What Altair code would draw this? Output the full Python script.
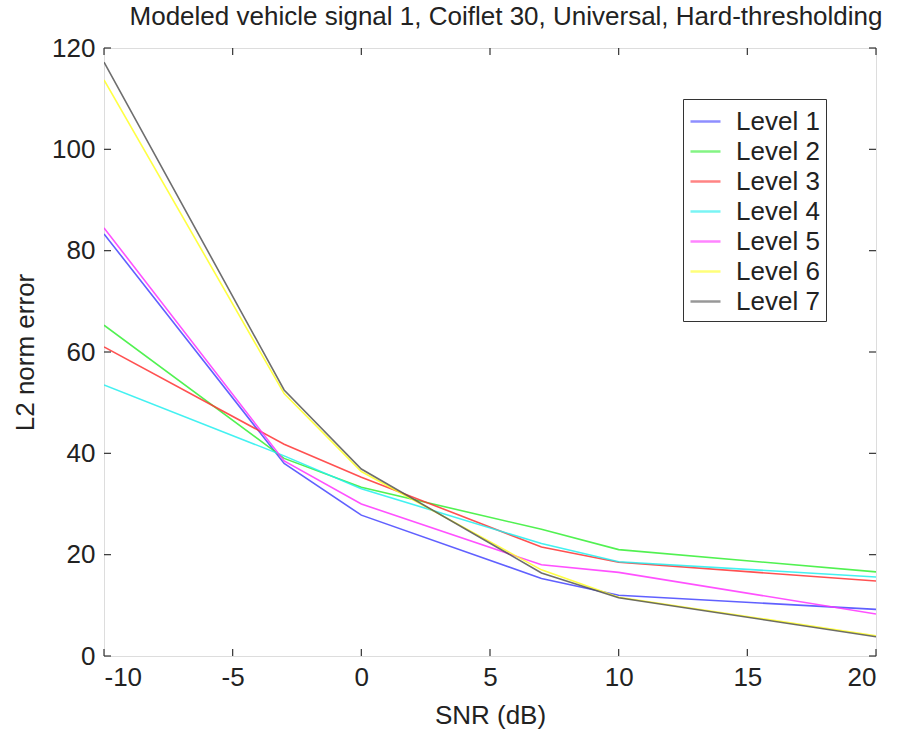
import altair as alt
import pandas as pd

snr = [-10, -3, 0, 7, 10, 20]
levels = ["Level 1", "Level 2", "Level 3", "Level 4", "Level 5", "Level 6", "Level 7"]
level1 = [83.3, 38.0, 27.8, 15.3, 12.0, 9.2]
level2 = [65.3, 39.0, 33.3, 25.0, 21.0, 16.6]
level3 = [61.0, 41.8, 35.3, 21.5, 18.5, 14.8]
level4 = [53.5, 39.5, 33.0, 22.2, 18.6, 15.6]
level5 = [84.5, 38.5, 30.0, 18.0, 16.5, 8.3]
level6 = [113.7, 51.8, 36.4, 17.0, 11.6, 4.0]
level7 = [117.2, 52.5, 36.9, 16.4, 11.5, 3.8]
colors = ["#4444ff", "#33ee33", "#ff3333", "#22eeee", "#ff33ff", "#ffff22", "#555555"]
x_ticks = [-10, -5, 0, 5, 10, 15, 20]
y_ticks = [0, 20, 40, 60, 80, 100, 120]

series = [level1, level2, level3, level4, level5, level6, level7]
rows = []
for name, vals in zip(levels, series):
    for s, v in zip(snr, vals):
        rows.append({"snr": s, "err": v, "level": name})
df = pd.DataFrame(rows)

W, H = 772, 608
FONT = "Liberation Sans"

xs = alt.Scale(domain=[-10, 20], nice=False, zero=False)
ys = alt.Scale(domain=[0, 120], nice=False, zero=False)

lines = alt.Chart(df).mark_line(strokeWidth=1.6, opacity=0.85, clip=True).encode(
    x=alt.X("snr:Q", scale=xs, title="SNR (dB)",
            axis=alt.Axis(values=x_ticks, ticks=False, tickSize=0, domain=False, grid=False,
                          labelExpr="datum.value < 0 ? '-' + abs(datum.value) : '' + datum.value",
                          labelFontSize=26, labelFont=FONT, labelColor="#222", labelPadding=8,
                          titleFontSize=26, titleFont=FONT, titleFontWeight="normal",
                          titleColor="#222", titlePadding=12)),
    y=alt.Y("err:Q", scale=ys, title="L2 norm error",
            axis=alt.Axis(values=y_ticks, ticks=False, tickSize=0, domain=False, grid=False,
                          labelFontSize=26, labelFont=FONT, labelColor="#222", labelPadding=9,
                          titleFontSize=26, titleFont=FONT, titleFontWeight="normal",
                          titleColor="#222", titlePadding=13)),
    color=alt.Color("level:N", scale=alt.Scale(domain=levels, range=colors),
                    legend=alt.Legend(title=None, orient="none", legendX=579, legendY=51,
                                      symbolType="stroke", symbolSize=900, symbolStrokeWidth=2.5,
                                      labelFontSize=26, labelFont=FONT, labelColor="#222",
                                      strokeColor="#333", fillColor="white", padding=6,
                                      rowPadding=0, symbolOpacity=0.6, labelOffset=14)),
    detail="level:N",
)

xt = pd.DataFrame({"t": x_ticks})
yt = pd.DataFrame({"t": y_ticks})
tick_style = dict(color="#333", strokeWidth=1.2)
xb = alt.Chart(xt).mark_rule(**tick_style).encode(x=alt.X("t:Q", scale=xs), y=alt.value(H), y2=alt.value(H - 7))
xtop = alt.Chart(xt).mark_rule(**tick_style).encode(x=alt.X("t:Q", scale=xs), y=alt.value(0), y2=alt.value(7))
yl = alt.Chart(yt).mark_rule(**tick_style).encode(y=alt.Y("t:Q", scale=ys), x=alt.value(0), x2=alt.value(7))
yr = alt.Chart(yt).mark_rule(**tick_style).encode(y=alt.Y("t:Q", scale=ys), x=alt.value(W), x2=alt.value(W - 7))

chart = alt.layer(lines, xb, xtop, yl, yr).properties(
    width=W, height=H,
    title=alt.TitleParams("Modeled vehicle signal 1, Coiflet 30, Universal, Hard-thresholding",
                          fontSize=26, font=FONT, fontWeight="normal", color="#222",
                          anchor="middle", offset=5, dx=16),
    autosize=alt.AutoSizeParams(type="none"),
    padding={"left": 104, "top": 48, "right": 33, "bottom": 76},
).configure_view(stroke="#333", strokeWidth=1.5).configure(background="white")

chart.save("out.html", embed_options={"renderer": "svg", "actions": False})
